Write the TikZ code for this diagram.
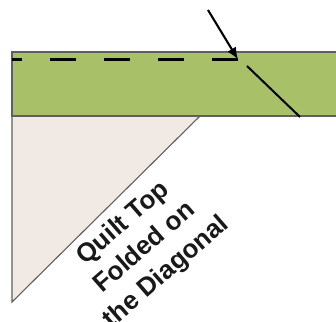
\documentclass[tikz,border=0pt]{standalone}
\usepackage{fontspec}
\setmainfont{Liberation Sans}
\usetikzlibrary{arrows.meta}
\definecolor{bandgreen}{RGB}{168,192,104}
\definecolor{foldbeige}{RGB}{241,233,228}
\definecolor{edgegray}{RGB}{95,95,95}
\tikzset{
  band/.style={fill=bandgreen, draw=none},
  bandedge/.style={draw=edgegray, line width=1.5pt},
  fold/.style={fill=foldbeige, draw=edgegray, line width=1.1pt},
  seam/.style={black, line width=2.3pt, dash pattern=on 26.5pt off 27.5pt},
  pointer/.style={black, line width=2.1pt, -{Latex[length=12pt,width=10pt]}},
  diag/.style={black, line width=2pt},
  label/.style={rotate=41, align=center, font=\bfseries\fontsize{26}{32.5}\selectfont, text=black!90}
}
\begin{document}
\begin{tikzpicture}[x=1pt,y=-1pt]
\useasboundingbox (0,0) rectangle (336,321);
\clip (0,0) rectangle (336,321);
% coordinates
\coordinate (bandTL) at (12,52);
\coordinate (bandBL) at (12,116);
\coordinate (bandTR) at (340,52);
\coordinate (bandBR) at (340,116);
\coordinate (triR) at (200,116);
\coordinate (triB) at (12,302);
\coordinate (arrowStart) at (208,10);
\coordinate (arrowTip) at (238,59.5);
\coordinate (seamEnd) at (12,59.5);
\coordinate (diagA) at (247,66);
\coordinate (diagB) at (300,117);
% folded triangle
\path[fold] (bandBL) -- (triR) -- (triB) -- cycle;
% green band
\path[band] (bandTL) rectangle (bandBR);
\draw[bandedge] (bandTR) -- (bandTL) -- (bandBL) -- (bandBR);
% seam dashed line
\draw[seam] (arrowTip) -- (seamEnd);
% diagonal
\draw[diag] (diagA) -- (diagB);
% arrow
\draw[pointer] (arrowStart) -- (arrowTip);
% label
\node[label] (lbl) at (145,248) {Quilt Top\\Folded on\\the Diagonal};
\end{tikzpicture}
\end{document}
